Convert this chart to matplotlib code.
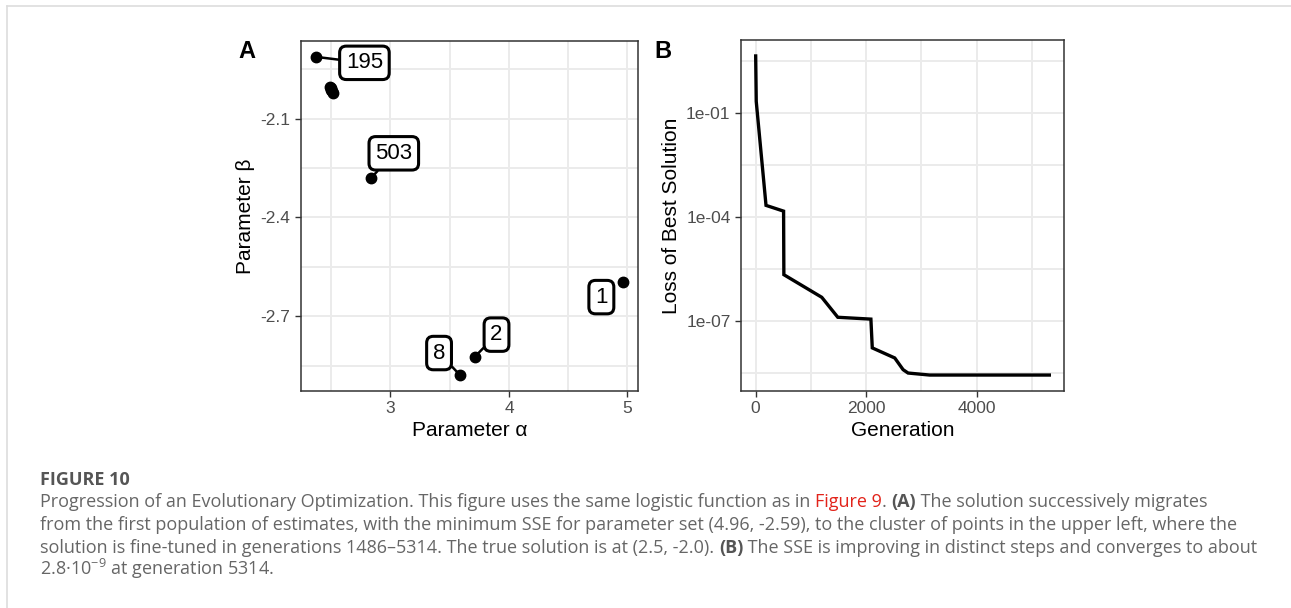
import matplotlib
matplotlib.use("Agg")
import matplotlib.pyplot as plt
import numpy as np
from matplotlib.lines import Line2D
from matplotlib.ticker import FixedLocator, FuncFormatter

# panel A: best (alpha, beta) per generation, labelled where the best solution moved
alpha = [4.96, 3.71, 3.587, 2.374, 2.834, 2.486, 2.494, 2.502, 2.508, 2.514]
beta = [-2.595, -2.824, -2.879, -1.912, -2.281, -2.003, -2.008, -2.013, -2.017, -2.021]
point_gen = ["1", "2", "8", "195", "503", None, None, None, None, None]
label_alpha = [4.78, 3.895, 3.41, 2.78, 3.028]
label_beta = [-2.642, -2.756, -2.812, -1.93, -2.205]

# panel B: loss of the best solution per generation
generation = [0, 10, 187, 505, 510, 1196, 1486, 2085, 2110, 2517, 2668, 2758, 3148, 5314]
loss = [4.5, 0.22, 2.2e-4, 1.5e-4, 2.2e-6, 4.9e-7, 1.3e-7, 1.15e-7, 1.7e-8,
        8.7e-9, 4.0e-9, 3.2e-9, 2.8e-9, 2.8e-9]

W, H = 1291, 608
CHART_FONT = "Liberation Sans"
TEXT_GREY = "#666666"
plt.rcParams["mathtext.fontset"] = "custom"
plt.rcParams["mathtext.rm"] = "Open Sans"

fig = plt.figure(figsize=(W / 100, H / 100), dpi=100)


def px_axes(left, top, right, bottom):
    return fig.add_axes([left / W, 1 - bottom / H, (right - left) / W, (bottom - top) / H])


def bw_theme(ax):
    ax.set_facecolor("white")
    for s in ax.spines.values():
        s.set_color("#333333")
        s.set_linewidth(1.1)
    ax.grid(which="both", color="#ebebeb", lw=1.4, zorder=0)
    ax.set_axisbelow(True)
    ax.tick_params(which="major", length=4, width=1.0, color="#333333", pad=3.5,
                   labelsize=12.5, labelcolor="#4d4d4d")
    ax.tick_params(which="minor", length=0)
    for lab in ax.get_xticklabels() + ax.get_yticklabels():
        lab.set_fontfamily(CHART_FONT)


def expand(lo, hi, f=0.05):
    d = (hi - lo) * f
    return lo - d, hi + d


# ---- panel A
axA = px_axes(301, 41, 638, 391)
axA.set_xlim(*expand(min(alpha), max(alpha)))
axA.set_ylim(*expand(min(beta), max(beta)))
axA.xaxis.set_major_locator(FixedLocator([3, 4, 5]))
axA.xaxis.set_minor_locator(FixedLocator([2.5, 3.5, 4.5]))
axA.yaxis.set_major_locator(FixedLocator([-2.1, -2.4, -2.7]))
axA.yaxis.set_minor_locator(FixedLocator([-1.95, -2.25, -2.55, -2.85]))
axA.yaxis.set_major_formatter(FuncFormatter(lambda v, _: f"{v:.1f}"))
bw_theme(axA)

labelled = [i for i, g in enumerate(point_gen) if g]
to_px = axA.transData.transform
for k, i in enumerate(labelled):
    # short leaders are dropped, as ggrepel does
    dist = np.hypot(*(to_px((alpha[i], beta[i])) - to_px((label_alpha[k], label_beta[k]))))
    arrow = dict(arrowstyle="-", color="black", lw=1.8, shrinkA=0, shrinkB=0) if dist > 30 else None
    axA.annotate(point_gen[i], xy=(alpha[i], beta[i]), xytext=(label_alpha[k], label_beta[k]),
                 ha="center", va="center", fontsize=16, family=CHART_FONT, color="black",
                 bbox=dict(boxstyle="round,pad=0.28,rounding_size=0.3", fc="white", ec="black", lw=2.2),
                 arrowprops=arrow, zorder=4)
axA.plot(alpha, beta, "o", color="black", ms=7.5, zorder=5)
axA.set_xlabel("Parameter α", fontsize=15, family=CHART_FONT, labelpad=3)
axA.set_ylabel("Parameter β", fontsize=15, family=CHART_FONT, labelpad=4)

# ---- panel B
axB = px_axes(741, 40, 1064, 391)
axB.set_yscale("log")
axB.set_xlim(*expand(min(generation), max(generation)))
lo, hi = expand(np.log10(min(loss)), np.log10(max(loss)))
axB.set_ylim(10 ** lo, 10 ** hi)
axB.xaxis.set_major_locator(FixedLocator([0, 2000, 4000]))
axB.xaxis.set_minor_locator(FixedLocator([1000, 3000, 5000]))
axB.yaxis.set_major_locator(FixedLocator([1e-1, 1e-4, 1e-7]))
axB.yaxis.set_minor_locator(FixedLocator([10 ** 0.5, 10 ** -2.5, 10 ** -5.5, 10 ** -8.5]))
axB.yaxis.set_major_formatter(FuncFormatter(lambda v, _: f"{v:.0e}"))
axB.yaxis.set_minor_formatter(FuncFormatter(lambda v, _: ""))
bw_theme(axB)
axB.plot(generation, loss, color="black", lw=2.4, solid_joinstyle="miter", zorder=3)
axB.set_xlabel("Generation", fontsize=15, family=CHART_FONT, labelpad=3)
axB.set_ylabel("Loss of Best Solution", fontsize=15, family=CHART_FONT, labelpad=4)

fig.text(247 / W, 1 - 51 / H, "A", fontsize=17, weight="bold", family=CHART_FONT,
         ha="center", va="center")
fig.text(663 / W, 1 - 51 / H, "B", fontsize=17, weight="bold", family=CHART_FONT,
         ha="center", va="center")

# page frame
fig.add_artist(Line2D([7 / W, 1], [1 - 5.5 / H] * 2, color="#dddddd", lw=1.2))
fig.add_artist(Line2D([7 / W] * 2, [0, 1 - 5.5 / H], color="#dddddd", lw=1.2))

# ---- caption
CAP_FONT = "Open Sans"
CAP_SIZE = 13
fig.text(40 / W, 1 - 485 / H, "FIGURE 10", fontsize=CAP_SIZE, weight="bold",
         family=CAP_FONT, color="#555555", va="baseline")

caption = [
    [("Progression of an Evolutionary Optimization. This figure uses the same logistic function as in ", TEXT_GREY, "normal"),
     ("Figure 9", "#e2231a", "normal"), (". ", TEXT_GREY, "normal"), ("(A)", "#555555", "bold"),
     (" The solution successively migrates", TEXT_GREY, "normal")],
    [("from the first population of estimates, with the minimum SSE for parameter set (4.96, -2.59), "
      "to the cluster of points in the upper left, where the", TEXT_GREY, "normal")],
    [("solution is fine-tuned in generations 1486\u20135314. The true solution is at (2.5, -2.0). ", TEXT_GREY, "normal"),
     ("(B)", "#555555", "bold"),
     (" The SSE is improving in distinct steps and converges to about", TEXT_GREY, "normal")],
    [("2.8\u00b710$^{\u22129}$ at generation 5314.", TEXT_GREY, "normal")],
]
baselines = [507, 530, 553, 575]

fig.canvas.draw()
r = fig.canvas.get_renderer()
# each line is a run of pieces laid side by side along one baseline
for line, base in zip(caption, baselines):
    x = 40
    for text, color, weight in line:
        t = fig.text(x / W, 1 - base / H, text, va="baseline", fontsize=CAP_SIZE,
                     family=CAP_FONT, color=color, weight=weight)
        x += t.get_window_extent(r).width

fig.savefig("out.png", dpi=100, facecolor="white")
